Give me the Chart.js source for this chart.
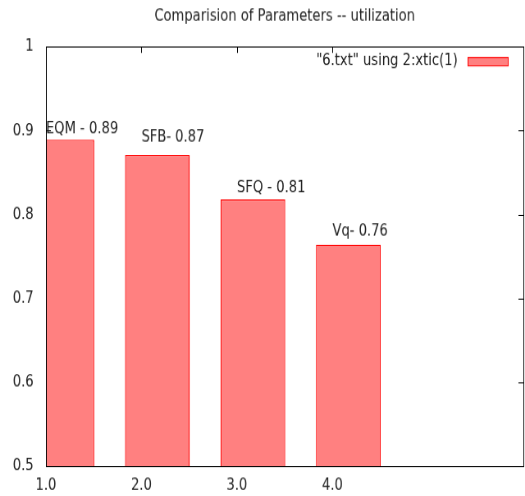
<!DOCTYPE html>
<html>
<head>
<meta charset="utf-8">
<script src="https://cdn.jsdelivr.net/npm/chart.js@4/dist/chart.umd.min.js"></script>
<style>
  body { margin: 0; background: #fff; }
  canvas { display: block; }
</style>
</head>
<body>
<!-- drawn at gnuplot's 640x480 and shown squeezed into 525x496 like the original image -->
<canvas id="utilizationChart" width="640" height="480" style="width:525px;height:496px"></canvas>
<script>
const xTickLabels = ['1.0', '2.0', '3.0', '4.0'];
const utilization = [0.889, 0.871, 0.818, 0.764];
const barNotes = ['EQM - 0.89', 'SFB- 0.87', 'SFQ - 0.81', 'Vq- 0.76'];
const noteY = [0.902, 0.892, 0.832, 0.780];
const legendText = '"6.txt" using 2:xtic(1)';
const titleText = 'Comparision of Parameters -- utilization';

const BAR_SHIFT = 0.167;
const FONT = 'DejaVu Sans';
const TEXT = '#222';

Chart.defaults.font.family = FONT;
Chart.defaults.font.size = 16;
Chart.defaults.color = TEXT;

// gnuplot style inward ticks (behind the boxes) and a frame on top
const framePlugin = {
  id: 'frame',
  beforeDatasetsDraw(chart) {
    const { ctx, chartArea: a, scales } = chart;
    const len = 6;
    ctx.save();
    ctx.strokeStyle = '#000';
    ctx.lineWidth = 1;
    ctx.beginPath();
    scales.y.ticks.forEach(t => {
      const y = Math.round(scales.y.getPixelForValue(t.value)) + 0.5;
      ctx.moveTo(a.left, y); ctx.lineTo(a.left + len, y);
      ctx.moveTo(a.right, y); ctx.lineTo(a.right - len, y);
    });
    xTickLabels.forEach((lbl, i) => {
      const x = Math.round(scales.x.getPixelForValue(i)) + 0.5;
      ctx.moveTo(x, a.bottom); ctx.lineTo(x, a.bottom - len);
      ctx.moveTo(x, a.top); ctx.lineTo(x, a.top + len);
    });
    ctx.stroke();
    ctx.restore();
  },
  afterDraw(chart) {
    const { ctx, chartArea: a } = chart;
    ctx.save();
    ctx.strokeStyle = '#000';
    ctx.lineWidth = 1;
    ctx.strokeRect(Math.round(a.left) + 0.5, Math.round(a.top) + 0.5,
      Math.round(a.right - a.left), Math.round(a.bottom - a.top));
    ctx.restore();
  }
};

// text labels over the bars and the key in the top right corner
const notesPlugin = {
  id: 'notes',
  afterDatasetsDraw(chart) {
    const { ctx, chartArea: a, scales } = chart;
    ctx.save();
    ctx.font = '16px ' + FONT;
    ctx.fillStyle = TEXT;
    ctx.textBaseline = 'middle';
    ctx.textAlign = 'left';
    barNotes.forEach((note, i) => {
      ctx.fillText(note, scales.x.getPixelForValue(i), scales.y.getPixelForValue(noteY[i]));
    });

    const ds = chart.data.datasets[0];
    const boxRight = a.right - 18;
    const boxW = 50;
    const boxY = a.top + 14;
    ctx.fillStyle = ds.backgroundColor;
    ctx.fillRect(boxRight - boxW, boxY - 4, boxW, 8);
    ctx.strokeStyle = ds.borderColor;
    ctx.strokeRect(boxRight - boxW + 0.5, boxY - 4 + 0.5, boxW - 1, 8);
    ctx.fillStyle = TEXT;
    ctx.textAlign = 'right';
    ctx.fillText(legendText, boxRight - boxW - 12, boxY);
    ctx.restore();
  }
};

const ctx = document.getElementById('utilizationChart').getContext('2d');
const utilizationChart = new Chart(ctx, {
  type: 'bar',
  data: {
    datasets: [{
      label: legendText,
      data: utilization.map((v, i) => ({ x: i + BAR_SHIFT, y: v })),
      backgroundColor: 'rgb(255, 128, 128)',
      borderColor: 'rgb(255, 0, 0)',
      borderWidth: 1.3,
      barPercentage: 0.678,
      categoryPercentage: 1,
    }],
  },
  options: {
    responsive: false,
    animation: false,
    devicePixelRatio: 1,
    layout: { padding: { right: 2, left: 0, bottom: 0 } },
    plugins: {
      legend: { display: false },
      tooltip: { enabled: false },
      title: {
        display: true,
        text: titleText,
        fullSize: false,
        color: TEXT,
        font: { size: 16, weight: 'normal' },
        padding: { top: 6, bottom: 20 },
      },
    },
    scales: {
      x: {
        type: 'linear',
        min: 0,
        max: 5,
        offset: false,
        grid: { display: false, drawTicks: false, offset: false },
        border: { display: false },
        ticks: {
          stepSize: 1,
          autoSkip: false,
          maxRotation: 0,
          padding: 9,
          callback: v => xTickLabels[v] ?? '',
        },
        afterFit: s => { s.height = 29; s.paddingLeft = 0; s.paddingRight = 0; },
      },
      y: {
        min: 0.5,
        max: 1,
        grid: { display: false, drawTicks: false },
        border: { display: false },
        ticks: {
          stepSize: 0.1,
          padding: 15,
          callback: v => String(Math.round(v * 10) / 10),
        },
        afterFit: s => { s.width = 56; },
      },
    },
  },
  plugins: [framePlugin, notesPlugin],
});
</script>
</body>
</html>
